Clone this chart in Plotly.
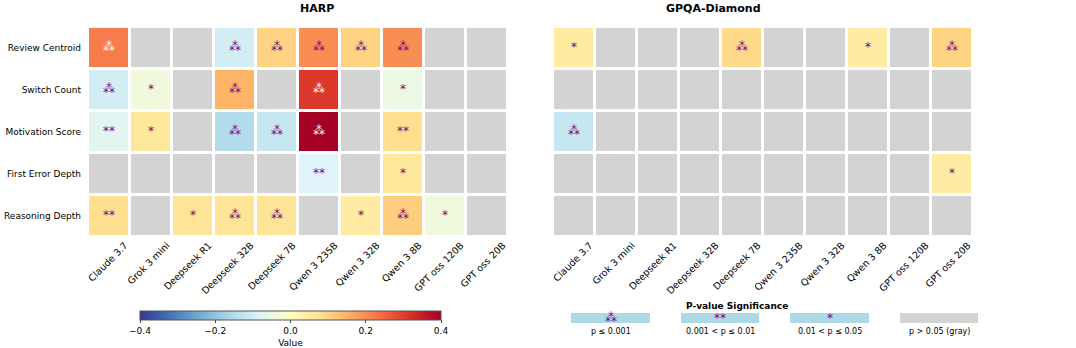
import plotly.graph_objects as go
from plotly.subplots import make_subplots

W, H = 1076, 348

models = ["Claude 3.7", "Grok 3 mini", "Deepseek R1", "Deepseek 32B", "Deepseek 7B",
          "Qwen 3 235B", "Qwen 3 32B", "Qwen 3 8B", "GPT oss 120B", "GPT oss 20B"]
metrics = ["Review Centroid", "Switch Count", "Motivation Score", "First Error Depth", "Reasoning Depth"]

N = None
# HARP correlation values (None = not significant, gray)
harp_review = [0.22, N, N, -0.10, 0.10, 0.20, 0.10, 0.20, N, N]
harp_switch = [-0.10, -0.04, N, 0.15, N, 0.31, N, -0.05, N, N]
harp_motiv = [-0.07, 0.06, N, -0.15, -0.12, 0.40, N, 0.08, N, N]
harp_first = [N, N, N, N, N, -0.08, N, 0.06, N, N]
harp_reason = [0.08, N, 0.07, 0.07, 0.07, N, 0.05, 0.11, -0.04, N]

harp_review_sig = ["***", "", "", "***", "***", "***", "***", "***", "", ""]
harp_switch_sig = ["***", "*", "", "***", "", "***", "", "*", "", ""]
harp_motiv_sig = ["**", "*", "", "***", "***", "***", "", "**", "", ""]
harp_first_sig = ["", "", "", "", "", "**", "", "*", "", ""]
harp_reason_sig = ["**", "", "*", "***", "***", "", "*", "***", "*", ""]

# GPQA-Diamond
gpqa_review = [0.05, N, N, N, 0.09, N, N, 0.05, N, 0.10]
gpqa_switch = [N, N, N, N, N, N, N, N, N, N]
gpqa_motiv = [-0.12, N, N, N, N, N, N, N, N, N]
gpqa_first = [N, N, N, N, N, N, N, N, N, 0.05]
gpqa_reason = [N, N, N, N, N, N, N, N, N, N]

gpqa_review_sig = ["*", "", "", "", "***", "", "", "*", "", "***"]
gpqa_switch_sig = ["", "", "", "", "", "", "", "", "", ""]
gpqa_motiv_sig = ["***", "", "", "", "", "", "", "", "", ""]
gpqa_first_sig = ["", "", "", "", "", "", "", "", "", "*"]
gpqa_reason_sig = ["", "", "", "", "", "", "", "", "", ""]

cbar_ticks = [-0.4, -0.2, 0.0, 0.2, 0.4]
cbar_ticktext = ["\u22120.4", "\u22120.2", "0.0", "0.2", "0.4"]

legend_stars = ["***", "**", "*", ""]
legend_labels = ["p \u2264 0.001", "0.001 &lt; p \u2264 0.01", "0.01 &lt; p \u2264 0.05", "p &gt; 0.05 (gray)"]

harp_z = [harp_review, harp_switch, harp_motiv, harp_first, harp_reason]
harp_s = [harp_review_sig, harp_switch_sig, harp_motiv_sig, harp_first_sig, harp_reason_sig]
gpqa_z = [gpqa_review, gpqa_switch, gpqa_motiv, gpqa_first, gpqa_reason]
gpqa_s = [gpqa_review_sig, gpqa_switch_sig, gpqa_motiv_sig, gpqa_first_sig, gpqa_reason_sig]

RDYLBU_R = [
    [0.0, "#313695"], [0.1, "#4575b4"], [0.2, "#74add1"], [0.3, "#abd9e9"],
    [0.4, "#e0f3f8"], [0.5, "#ffffbf"], [0.6, "#fee090"], [0.7, "#fdae61"],
    [0.8, "#f46d43"], [0.9, "#d73027"], [1.0, "#a50026"],
]
FONT = "DejaVu Sans"
PURPLE = "#800080"


def star_glyph(s):
    return {"***": "\u2042", "**": "**", "*": "*"}.get(s, "")


fig = make_subplots(rows=1, cols=2)

for col, (zz, ss) in enumerate([(harp_z, harp_s), (gpqa_z, gpqa_s)], start=1):
    # gray background cells
    fig.add_trace(go.Heatmap(
        x=models, y=metrics, z=[[1] * len(models) for _ in metrics],
        colorscale=[[0, "#d3d3d3"], [1, "#d3d3d3"]], showscale=False,
        xgap=3, ygap=3, hoverinfo="skip"), row=1, col=col)
    fig.add_trace(go.Heatmap(
        x=models, y=metrics, z=zz, zmin=-0.4, zmax=0.4, colorscale=RDYLBU_R,
        xgap=3, ygap=3, showscale=(col == 1),
        colorbar=dict(
            orientation="h", x=290.5 / W, xanchor="center",
            y=1 - 311 / H, yanchor="top", len=301 / W, lenmode="fraction",
            thickness=9, outlinewidth=1, outlinecolor="#555", xpad=0, ypad=0,
            tickvals=cbar_ticks, ticktext=cbar_ticktext, ticks="outside", ticklen=3,
            tickfont=dict(family=FONT, size=9, color="#000"),
            title=dict(text="Value", side="bottom", font=dict(family=FONT, size=9, color="#000")),
        ) if col == 1 else None), row=1, col=col)
    for color, white in [(PURPLE, False), ("white", True)]:
        xs, ys, ts = [], [], []
        for i, m in enumerate(metrics):
            for j, md in enumerate(models):
                s = ss[i][j]
                if not s:
                    continue
                v = zz[i][j]
                is_white = v is not None and abs(v) > 0.21
                if is_white != white:
                    continue
                xs.append(md); ys.append(m); ts.append(star_glyph(s))
        fig.add_trace(go.Scatter(
            x=xs, y=ys, text=ts, mode="text", hoverinfo="skip", showlegend=False,
            textfont=dict(family=FONT, size=12, color=color)), row=1, col=col)

xdoms = [[88 / W, 508 / W], [553 / W, 973 / W]]
ydom = [1 - 237 / H, 1 - 27 / H]
for k, ax in enumerate(["xaxis", "xaxis2"]):
    fig.layout[ax].update(domain=xdoms[k], tickangle=-45, showgrid=False, zeroline=False,
                          automargin=False, showline=False, ticks="",
                          ticklabelshift=16, ticklabelstandoff=0,
                          tickfont=dict(family=FONT, size=9.5, color="#000"))
fig.layout["yaxis"].update(domain=ydom, autorange="reversed", showgrid=False, zeroline=False,
                           automargin=False, ticks="", ticklabelstandoff=6,
                           tickfont=dict(family=FONT, size=9, color="#000"))
fig.layout["yaxis2"].update(domain=ydom, autorange="reversed", showgrid=False, zeroline=False,
                            automargin=False, showticklabels=False, ticks="")

annotations = [
    dict(text="<b>HARP</b>", x=298 / W, y=1 - 9 / H, xref="paper", yref="paper", yanchor="middle",
         showarrow=False, font=dict(family=FONT, size=11, color="#000")),
    dict(text="<b>GPQA-Diamond</b>", x=763 / W, y=1 - 9 / H, xref="paper", yref="paper", yanchor="middle",
         showarrow=False, font=dict(family=FONT, size=11, color="#000")),
    dict(text="<b>P-value Significance</b>", x=790 / W, y=1 - 306 / H, xref="paper", yref="paper",
         yanchor="middle", showarrow=False, font=dict(family=FONT, size=9, color="#000")),
]
shapes = []
box_x = [(571, 650), (681, 759), (790, 869), (900, 978)]
for k, (x0, x1) in enumerate(box_x):
    fill = "#add8e6" if legend_stars[k] else "#d3d3d3"
    shapes.append(dict(type="rect", xref="paper", yref="paper",
                       x0=x0 / W, x1=x1 / W, y0=1 - 323 / H, y1=1 - 313 / H,
                       fillcolor=fill, line=dict(width=0), layer="below"))
    if legend_stars[k]:
        annotations.append(dict(text=star_glyph(legend_stars[k]), x=(x0 + x1) / 2 / W, y=1 - 318 / H,
                                xref="paper", yref="paper", yanchor="middle", xanchor="center",
                                showarrow=False, font=dict(family=FONT, size=12, color=PURPLE)))
    annotations.append(dict(text=legend_labels[k], x=(x0 + x1) / 2 / W, y=1 - 331 / H,
                            xref="paper", yref="paper", yanchor="middle", xanchor="center",
                            showarrow=False, font=dict(family=FONT, size=8, color="#000")))

fig.update_layout(template="none", width=W, height=H, margin=dict(l=0, r=0, t=0, b=0, pad=0),
                  paper_bgcolor="white", plot_bgcolor="white", showlegend=False,
                  annotations=annotations, shapes=shapes)

fig.write_html("out.html", config={"displayModeBar": False},
               post_script="document.body.style.margin='0px';")
